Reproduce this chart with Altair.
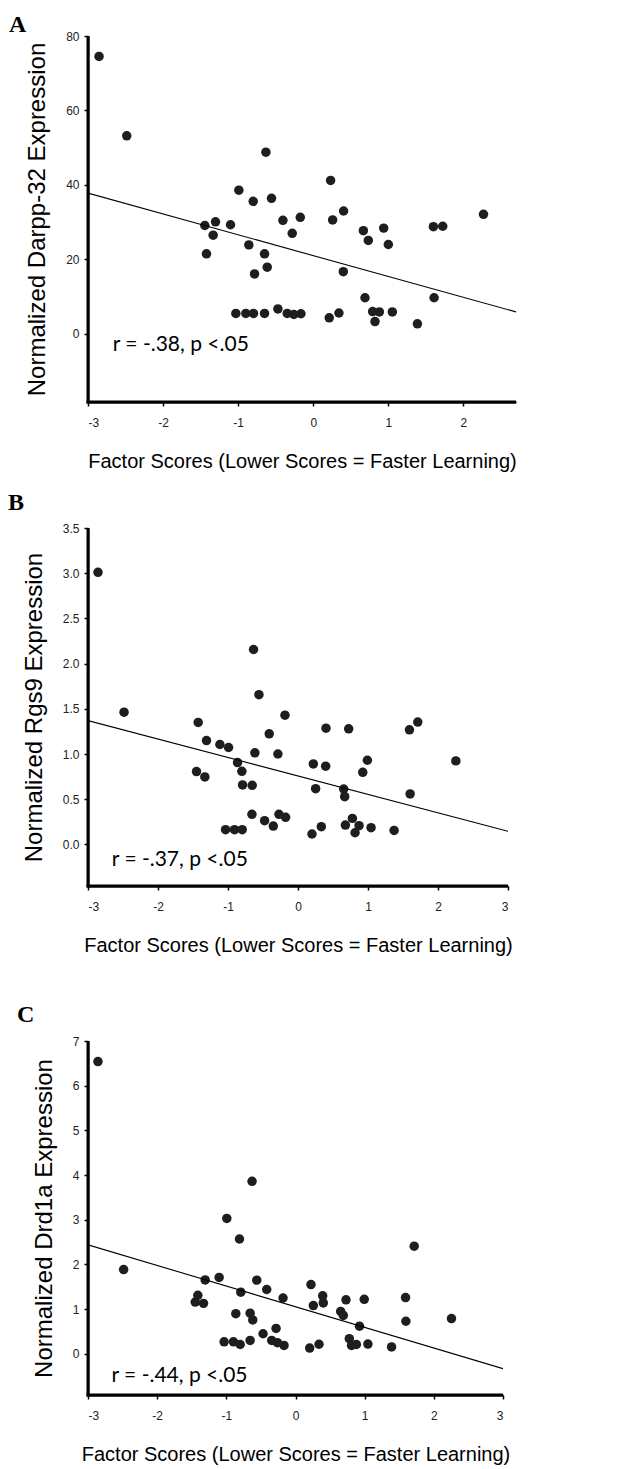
import altair as alt
import pandas as pd

# ---------------- data ----------------
# Panel A: Darpp-32
xa = [-2.853, -2.484, -1.444, -1.422, -1.333, -1.302, -1.102, -1.031, -0.991, -0.898,
      -0.858, -0.800, -0.796, -0.782, -0.649, -0.649, -0.631, -0.613, -0.556, -0.471,
      -0.404, -0.347, -0.280, -0.258, -0.173, -0.164, 0.213, 0.231, 0.258, 0.342,
      0.400, 0.404, 0.667, 0.689, 0.733, 0.791, 0.822, 0.880, 0.938, 1.000,
      1.053, 1.387, 1.600, 1.609, 1.724, 2.267]
ya = [74.5, 53.2, 29.1, 21.5, 26.5, 30.1, 29.3, 5.5, 38.6, 5.5,
      23.9, 35.6, 5.5, 16.1, 21.5, 5.5, 48.8, 17.9, 36.4, 6.7,
      30.5, 5.5, 27.0, 5.2, 31.3, 5.4, 4.3, 41.2, 30.6, 5.6,
      16.7, 33.0, 27.7, 9.7, 25.1, 6.0, 3.3, 5.9, 28.4, 24.0,
      5.9, 2.7, 28.8, 9.7, 28.9, 32.1]

# Panel B: Rgs9
xb = [-2.857, -2.485, -1.450, -1.426, -1.331, -1.307, -1.116, -1.035, -0.992, -0.907,
      -0.864, -0.802, -0.797, -0.792, -0.658, -0.654, -0.635, -0.616, -0.558, -0.477,
      -0.411, -0.353, -0.287, -0.272, -0.186, -0.177, 0.200, 0.219, 0.252, 0.333,
      0.395, 0.400, 0.653, 0.667, 0.677, 0.724, 0.777, 0.815, 0.872, 0.925,
      0.991, 1.044, 1.373, 1.592, 1.602, 1.711, 2.255]
yb = [3.01, 1.463, 0.806, 1.349, 0.746, 1.149, 1.105, 0.163, 1.072, 0.163,
      0.905, 0.809, 0.163, 0.658, 0.333, 0.654, 2.156, 1.013, 1.656, 0.262,
      1.223, 0.203, 1.0, 0.333, 1.43, 0.3, 0.115, 0.89, 0.617, 0.196,
      0.865, 1.286, 0.613, 0.528, 0.214, 1.279, 0.288, 0.129, 0.207, 0.798,
      0.931, 0.185, 0.155, 1.268, 0.558, 1.353, 0.924]

# Panel C: Drd1a
xc = [-2.856, -2.485, -1.450, -1.412, -1.330, -1.306, -1.104, -1.032, -0.993, -0.897,
      -0.863, -0.810, -0.800, -0.791, -0.656, -0.656, -0.628, -0.618, -0.560, -0.469,
      -0.416, -0.344, -0.281, -0.262, -0.180, -0.166, 0.205, 0.224, 0.258, 0.340,
      0.393, 0.402, 0.653, 0.691, 0.730, 0.778, 0.810, 0.880, 0.925, 0.994,
      1.047, 1.389, 1.591, 1.596, 1.716, 2.255]
yc = [6.54, 1.886, 1.16, 1.31, 1.13, 1.655, 1.71, 0.27, 3.03, 0.27,
      0.90, 2.57, 0.21, 1.38, 0.91, 0.30, 3.86, 0.76, 1.65, 0.45,
      1.44, 0.30, 0.57, 0.25, 1.25, 0.19, 0.13, 1.55, 1.08, 0.215,
      1.30, 1.14, 0.95, 0.86, 1.21, 0.34, 0.19, 0.21, 0.62, 1.22,
      0.22, 0.155, 1.26, 0.73, 2.41, 0.79]

# regression lines (end points)
line_a_x = [-3.0, 2.7]
line_a_y = [37.8, 5.9]
line_b_x = [-3.0, 3.0]
line_b_y = [1.37, 0.145]
line_c_x = [-3.0, 3.0]
line_c_y = [2.44, -0.33]

# axis tick values
x_ticks_a = [-3, -2, -1, 0, 1, 2]
x_ticks_bc = [-3, -2, -1, 0, 1, 2, 3]
y_ticks_a = [0, 20, 40, 60, 80]
y_ticks_b = [0.0, 0.5, 1.0, 1.5, 2.0, 2.5, 3.0, 3.5]
y_ticks_c = [0, 1, 2, 3, 4, 5, 6, 7]

# annotations
r_texts = ["r = -.38, p <.05", "r = -.37, p <.05", "r = -.44, p <.05"]
r_pos_x = [-2.67, -2.66, -2.66]
r_pos_y = [-2.95, -0.17, -0.49]

y_titles = ["Normalized Darpp-32 Expression", "Normalized Rgs9 Expression",
            "Normalized Drd1a Expression"]
x_title = "Factor Scores (Lower Scores = Faster Learning)"
letters = ["A", "B", "C"]

INK = "#1e1e1e"
TICK = 4

AXIS_COMMON = dict(
    domain=True, ticks=True, grid=False,
    domainColor="#000000", domainWidth=2, domainOpacity=1,
    tickColor="#000000", tickWidth=1.5, tickSize=TICK, tickOpacity=1,
    labelFont="Liberation Sans", labelFontSize=12, labelColor="#222222",
    titleFont="Liberation Sans", titleFontWeight="normal", titleColor="black",
)


def panel(letter, xs, ys, lx, ly, xdom, ydom, xticks, yticks, yfmt, ytitle,
          rtext, rx, ry, w, h, letter_dx, letter_dy, extra_top=None):
    pts = pd.DataFrame({"x": xs, "y": ys})
    ln = pd.DataFrame({"x": lx, "y": ly})
    ann = pd.DataFrame({"x": [rx], "y": [ry], "t": [rtext]})
    xs_ = alt.Scale(domain=xdom, nice=False, zero=False)
    ys_ = alt.Scale(domain=ydom, nice=False, zero=False)
    xax = alt.Axis(values=xticks, title=x_title, labelExpr="'' + datum.value",
                   titleFontSize=20, titlePadding=23, labelPadding=11,
                   **AXIS_COMMON)
    yax = alt.Axis(values=yticks, title=ytitle, format=yfmt,
                   titleFontSize=24, titlePadding=16, labelPadding=5,
                   **AXIS_COMMON)

    points = alt.Chart(pts).mark_circle(size=90, color=INK, opacity=1).encode(
        x=alt.X("x:Q", scale=xs_, axis=xax),
        y=alt.Y("y:Q", scale=ys_, axis=yax),
    )
    line = alt.Chart(ln).mark_line(color="black", strokeWidth=1.1, clip=True).encode(
        x="x:Q", y="y:Q")
    txt = alt.Chart(ann).mark_text(font="Lato", fontSize=21, align="left",
                                   baseline="middle", color="black").encode(
        x="x:Q", y="y:Q", text="t:N")
    lab = alt.Chart(pd.DataFrame({"t": [letter]})).mark_text(
        font="Liberation Serif", fontWeight="bold", fontSize=24, align="left",
        baseline="alphabetic", color="black").encode(
        x=alt.value(letter_dx), y=alt.value(letter_dy), text="t:N")

    one = pd.DataFrame({"k": [0]})
    # axis lines, also as filled rectangles
    yline = alt.Chart(one).mark_rect(color="black", opacity=1).encode(
        x=alt.value(-1.5), x2=alt.value(1.5), y=alt.value(0), y2=alt.value(h + 1.5))
    xline = alt.Chart(one).mark_rect(color="black", opacity=1).encode(
        x=alt.value(-1.5), x2=alt.value(w), y=alt.value(h - 1.5), y2=alt.value(h + 1.5))

    layers = [points, line, txt, lab, yline, xline]
    if extra_top is not None:
        spacer = alt.Chart(pd.DataFrame({"t": [letter]})).mark_text(
            font="Liberation Serif", fontWeight="bold", fontSize=24, align="left",
            baseline="alphabetic", opacity=0).encode(
            x=alt.value(letter_dx), y=alt.value(extra_top), text="t:N")
        layers.append(spacer)
    return alt.layer(*layers).properties(width=w, height=h)


pa = panel(letters[0], xa, ya, line_a_x, line_a_y, [-3, 2.7], [-18.3, 80],
           x_ticks_a, y_ticks_a, "d", y_titles[0], r_texts[0], r_pos_x[0], r_pos_y[0],
           428, 366, -79, -4)
pb = panel(letters[1], xb, yb, line_b_x, line_b_y, [-3, 3], [-0.46, 3.5],
           x_ticks_bc, y_ticks_b, ".1f", y_titles[1], r_texts[1], r_pos_x[1], r_pos_y[1],
           420, 358, -80, -18)
pc = panel(letters[2], xc, yc, line_c_x, line_c_y, [-3, 3], [-0.92, 7],
           x_ticks_bc, y_ticks_c, "d", y_titles[2], r_texts[2], r_pos_x[2], r_pos_y[2],
           415, 354, -71, -19, extra_top=-47)

chart = alt.vconcat(pa, pb, pc, spacing=20).properties(
    padding={"left": 0, "top": 5, "right": 5, "bottom": 5}
).configure_view(stroke=None)

chart.save("out.html", embed_options={"renderer": "svg", "actions": False})
